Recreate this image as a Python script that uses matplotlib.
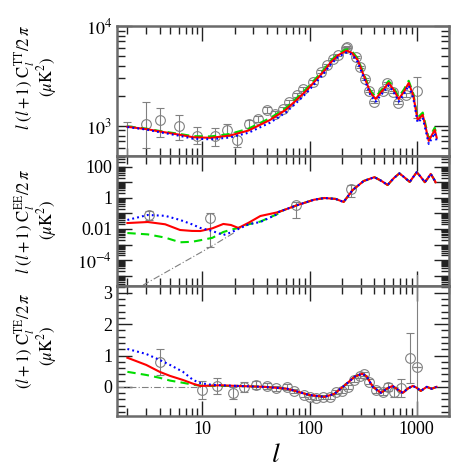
import numpy as np
import matplotlib
matplotlib.use("Agg")
import matplotlib.pyplot as plt
from matplotlib.ticker import FixedLocator, NullFormatter, LogLocator, MultipleLocator

plt.rcParams['font.family'] = ['Liberation Serif', 'DejaVu Serif']
plt.rcParams['mathtext.fontset'] = 'stix'

# ---- TT panel ----
tt_l = [2, 3, 4, 6, 8.2, 12, 18, 27, 43, 60, 77, 95, 119, 140, 157, 185, 217, 226, 250,
        281, 333, 370, 414, 470, 547, 610, 679, 760, 841, 930, 1020, 1138, 1295, 1472, 1537]
tt_red = [980, 930, 880, 820, 770, 760, 800, 900, 1150, 1450, 1850, 2300, 3000, 3650, 4300,
          5100, 5600, 5650, 5350, 4570, 2880, 2150, 1860, 2200, 2690, 2300, 1860, 2200, 2690,
          2000, 1150, 1290, 708, 912, 760]
tt_green = [990, 940, 890, 835, 790, 785, 830, 940, 1200, 1510, 1930, 2400, 3130, 3800, 4470,
            5280, 5800, 5850, 5550, 4750, 3000, 2250, 1950, 2300, 2820, 2420, 1950, 2320, 2830,
            2100, 1210, 1360, 745, 960, 800]
tt_blue = [975, 920, 865, 800, 745, 735, 765, 855, 1080, 1360, 1740, 2170, 2850, 3480, 4100,
           4900, 5400, 5450, 5150, 4380, 2740, 2030, 1750, 2070, 2540, 2170, 1750, 2080, 2540,
           1880, 1080, 1210, 660, 850, 700]
tt_pts_l = [2, 3, 4, 6, 9, 13, 17, 21, 27, 33, 40, 48, 56, 65, 77, 86, 107, 127, 147, 164,
            183, 217, 222, 269, 293, 327, 356, 396, 481, 530, 597, 664, 789, 1000]
tt_pts = [150, 1047, 1150, 1000, 794, 794, 912, 725, 1047, 1175, 1450, 1320, 1480, 1740, 2040,
          2340, 2750, 3470, 4070, 4680, 5130, 6000, 6170, 4900, 3890, 2950, 2240, 1740, 2240,
          2690, 2190, 1700, 2040, 2240]
tt_lo = [150, 600, 775, 725, 660, 630, 790, 617, 960, 1090, 1360, 1240, 1400, 1650, 1950,
         2240, 2640, 3350, 3950, 4560, 5000, 5850, 6020, 4780, 3790, 2870, 2180, 1690, 2170,
         2610, 2120, 1640, 1950, 1200]
tt_hi = [1100, 1740, 1510, 1290, 977, 955, 1040, 870, 1140, 1260, 1540, 1400, 1560, 1830, 2130,
         2440, 2860, 3590, 4190, 4800, 5260, 6150, 6320, 5020, 3990, 3030, 2300, 1790, 2310,
         2770, 2260, 1760, 2130, 3090]

# ---- EE panel ----
ee_l_low = [2, 3.1, 4.5, 6.2, 8, 9.6, 12.4, 15.7, 18.5, 21.7, 27, 34.8, 51]
ee_red_low = [0.024, 0.028, 0.02, 0.0086, 0.0075, 0.0074, 0.011, 0.021, 0.018, 0.0116, 0.025,
              0.068, 0.12]
ee_green_low = [0.0055, 0.0045, 0.0028, 0.0014, 0.0015, 0.0019, 0.0027, 0.0064, 0.009, 0.0116,
                0.02, 0.03, 0.095]
ee_blue_low = [0.038, 0.079, 0.07, 0.038, 0.02, 0.0116, 0.0074, 0.0041, 0.006, 0.01, 0.02,
               0.028, 0.095]
ee_l_high = [51, 77, 110, 138, 175, 208, 252, 320, 403, 470, 535, 610, 689, 770, 860, 930,
             1000, 1090, 1190, 1270, 1350, 1430, 1500]
ee_common = [0.12, 0.34, 0.75, 0.97, 0.85, 0.54, 3.1, 12, 21, 12, 6.6, 18, 37, 20, 10.4, 22,
             44, 22, 10, 18, 34, 18, 10]
ee_nore_l = [2.8, 11.9, 20]
ee_nore = [2.5e-6, 7e-4, 0.006]
ee_pts_l = [3.2, 11.9, 74, 242]
ee_pts = [0.08, 0.05, 0.34, 3.7]
ee_lo = [0.038, 7e-4, 0.05, 1.1]
ee_hi = [0.14, 0.1, 0.54, 6.6]

# ---- TE panel ----
te_l_low = [2, 3, 4, 5, 6.6, 8.2, 9.6, 12, 15, 21]
te_red_low = [0.93, 0.7, 0.48, 0.35, 0.22, 0.1, 0.03, 0.04, 0.05, 0.03]
te_green_low = [0.48, 0.38, 0.29, 0.2, 0.13, 0.07, 0.04, 0.03, 0.03, 0.03]
te_blue_low = [1.21, 1.05, 0.86, 0.7, 0.48, 0.22, 0.12, 0.07, 0.05, 0.03]
te_l_high = [21, 38, 62, 100, 138, 171, 227, 265, 310, 340, 390, 464, 530, 595, 660, 740, 830,
             920, 1000, 1090, 1240, 1380, 1530]
te_common = [0.03, 0.0, -0.06, -0.26, -0.32, -0.22, 0.13, 0.33, 0.42, 0.34, 0.0, -0.19, -0.05,
             0.03, -0.08, -0.19, -0.05, 0.03, -0.03, -0.13, 0.0, -0.06, 0.0]
te_pts_l = [4, 10, 13.8, 19.5, 24.5, 32, 40, 49, 61, 71, 88, 102, 116, 135, 154, 175, 203, 227,
            258, 296, 325, 362, 415, 480, 535, 610, 711, 860, 1000]
te_pts = [0.8, -0.1, 0.03, -0.19, 0.0, 0.06, 0.03, -0.05, 0.0, -0.13, -0.26, -0.32, -0.35,
          -0.32, -0.32, -0.16, -0.13, 0.0, 0.22, 0.35, 0.42, 0.16, -0.1, -0.16, 0.0, -0.16,
          -0.03, 0.93, 0.64]
te_err = [0.41, 0.28, 0.25, 0.19, 0.16, 0.13, 0.1, 0.08, 0.1, 0.06, 0.06, 0.06, 0.06, 0.06,
          0.06, 0.06, 0.06, 0.06, 0.06, 0.07, 0.07, 0.08, 0.1, 0.1, 0.12, 0.15, 0.29, 0.8, 0.01]

red = '#ff0000'
green = '#00dd00'
blue = '#0000ff'
gray = '#808080'
frame = '#6a6a6a'

fig = plt.figure(figsize=(4.74, 4.74), dpi=100)
W, H = 474.0, 474.0
left, right = 117 / W, 449 / W
tops = [26, 156, 286]
ph = 130
axes = [fig.add_axes([left, 1 - (t + ph) / H, right - left, ph / H]) for t in tops]
ax1, ax2, ax3 = axes

def style(ax):
    ax.set_xscale('log')
    ax.set_xlim(1.6, 2000)
    for s in ax.spines.values():
        s.set_color(frame)
        s.set_linewidth(1.8)
    ax.tick_params(which='both', direction='in', top=True, right=True, color='#222222',
                   width=1.0, labelsize=13)
    ax.tick_params(which='major', length=11)
    ax.tick_params(which='minor', length=6)
    ax.xaxis.set_major_locator(FixedLocator([10, 100, 1000]))
    ax.xaxis.set_minor_locator(LogLocator(base=10, subs=np.arange(2, 10), numticks=20))
    ax.xaxis.set_minor_formatter(NullFormatter())

def curves(ax, l, g, r, b, lw=1.5):
    ax.plot(l, g, color=green, lw=lw, ls=(0, (4, 2.5)), zorder=3)
    ax.plot(l, r, color=red, lw=lw, zorder=4)
    ax.plot(l, b, color=blue, lw=lw, ls=(0, (0.9, 1.5)), zorder=5)

def points(ax, x, y, lo, hi):
    y = np.array(y)
    yerr = [y - np.array(lo), np.array(hi) - y]
    ax.errorbar(x, y, yerr=yerr, fmt='o', mfc='none', mec=gray, ms=7, mew=0.8,
                ecolor=gray, elinewidth=0.8, capsize=3, capthick=0.8, zorder=2)

# TT
style(ax1)
ax1.set_yscale('log')
ax1.set_ylim(500, 1e4)
ax1.yaxis.set_major_locator(FixedLocator([1e3, 1e4]))
ax1.yaxis.set_minor_locator(LogLocator(base=10, subs=np.arange(2, 10), numticks=20))
ax1.yaxis.set_minor_formatter(NullFormatter())
ax1.set_yticklabels([r'$10^3$', r'$10^4$'])
ax1.set_xticklabels([])
points(ax1, tt_pts_l, tt_pts, tt_lo, tt_hi)
curves(ax1, tt_l, tt_green, tt_red, tt_blue)

# EE
style(ax2)
ax2.set_yscale('log')
ax2.set_ylim(2.2e-6, 480)
ee_major = [10.0 ** k for k in range(-5, 3)]
ax2.yaxis.set_major_locator(FixedLocator(ee_major))
ax2.yaxis.set_minor_locator(LogLocator(base=10, subs=np.arange(2, 10), numticks=20))
ax2.yaxis.set_minor_formatter(NullFormatter())
ee_labels = {1e-4: r'$10^{-4}$', 1e-2: '0.01', 1.0: '1', 1e2: '100'}
ax2.set_yticklabels([ee_labels.get(v, '') for v in ee_major])
ax2.set_xticklabels([])
points(ax2, ee_pts_l, ee_pts, ee_lo, ee_hi)
ax2.plot(ee_nore_l, ee_nore, color=gray, lw=0.8, ls=(0, (6, 2, 1, 2)), zorder=2)
curves(ax2, ee_l_low, ee_green_low, ee_red_low, ee_blue_low)
curves(ax2, ee_l_high, ee_common, ee_common, ee_common)

# TE
style(ax3)
ax3.set_ylim(-0.93, 3.22)
ax3.yaxis.set_major_locator(MultipleLocator(1))
ax3.yaxis.set_minor_locator(MultipleLocator(0.2))
ax3.set_xticklabels(['10', '100', '1000'])
te_e = np.array(te_err)
points(ax3, te_pts_l, te_pts, np.array(te_pts) - te_e, np.array(te_pts) + te_e)
ax3.plot([1000, 1000], [-0.93, 3.57], color=gray, lw=0.8, clip_on=False, zorder=2)
ax3.plot([1.6, 10], [0, 0], color=gray, lw=0.8, ls=(0, (6, 2, 1, 2)), zorder=2)
curves(ax3, te_l_low, te_green_low, te_red_low, te_blue_low)
curves(ax3, te_l_high, te_common, te_common, te_common)

fig.text(276 / W, 1 - 455 / H, r'$l$', fontsize=20, ha='center', va='center')

lab_fs = 12
fig.text(25 / W, 1 - 77 / H, r'$l\ (l+1)\ \mathrm{C}_l^{\mathrm{TT}}/2\,\pi$', rotation=90,
         fontsize=lab_fs, ha='center', va='center')
fig.text(47 / W, 1 - 77 / H, r'$(\mu\mathrm{K}^2)$', rotation=90, fontsize=lab_fs,
         ha='center', va='center')
fig.text(25 / W, 1 - 221 / H, r'$l\ (l+1)\ \mathrm{C}_l^{\mathrm{EE}}/2\,\pi$', rotation=90,
         fontsize=lab_fs, ha='center', va='center')
fig.text(47 / W, 1 - 220 / H, r'$(\mu\mathrm{K}^2)$', rotation=90, fontsize=lab_fs,
         ha='center', va='center')
fig.text(25 / W, 1 - 341 / H, r'$(l+1)\ \mathrm{C}_l^{\mathrm{TE}}/2\,\pi$', rotation=90,
         fontsize=lab_fs, ha='center', va='center')
fig.text(47 / W, 1 - 346 / H, r'$(\mu\mathrm{K}^2)$', rotation=90, fontsize=lab_fs,
         ha='center', va='center')

fig.savefig('out.png', dpi=100)
